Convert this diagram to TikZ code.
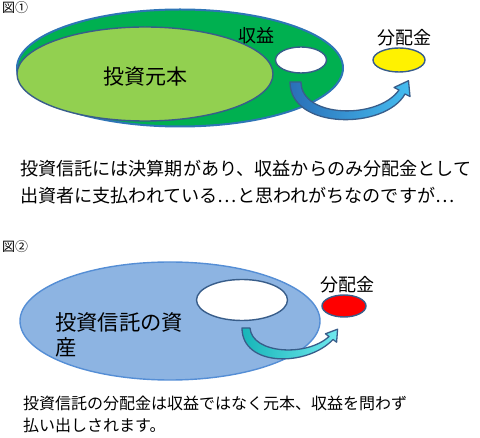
\documentclass[tikz,border=0pt]{standalone}
\usepackage{fontspec}
\setmainfont{Noto Sans CJK JP}
\usetikzlibrary{shapes.geometric,positioning}

\definecolor{capgreen}{HTML}{00B050}
\definecolor{leafgreen}{HTML}{92D050}
\definecolor{rimblue}{HTML}{2E75B6}
\definecolor{edgeblue}{HTML}{385D8A}
\definecolor{fundblue}{HTML}{8DB4E2}
\definecolor{fundrim}{HTML}{558ED5}
\definecolor{arrowdark}{HTML}{2A6FB8}
\definecolor{arrowlight}{HTML}{45BDF0}
\definecolor{tealdark}{HTML}{16B5B8}
\definecolor{teallight}{HTML}{6FE8EE}

\begin{document}
\begin{tikzpicture}[x=1pt,y=-1pt,
    oval/.style={ellipse, draw=edgeblue, line width=1.4pt, inner sep=0pt},
    txt/.style={inner sep=0pt, align=left},
    bendarrow/.style={draw=edgeblue, line width=1.3pt, line join=round}]
    \useasboundingbox (0,0) rectangle (480,438);

    % figure 1
    \node[txt, anchor=north west, font=\fontsize{13}{15}\selectfont] (fig1) at (2,1) {図①};
    \node[oval, draw=rimblue, line width=2pt, fill=capgreen, minimum width=326, minimum height=117] (whole1) at (180,68) {};
    \node[oval, fill=leafgreen, minimum width=256, minimum height=94] (principal) at (145,74) {};
    \node[txt, font=\fontsize{21}{25}\selectfont] (principallabel) at (145,77) {投資元本};
    \node[txt, font=\fontsize{18}{22}\selectfont] (gain) at (256,36) {収益};
    \node[oval, fill=white, minimum width=51, minimum height=26] (income1) at (301,60) {};
    \node[oval, fill=yellow, minimum width=52, minimum height=24] (pay1) at (399,60) {};
    \node[txt, above=1pt of pay1, xshift=5pt, font=\fontsize{18}{22}\selectfont] (paylabel1) {分配金};

    \path[bendarrow, left color=arrowdark, right color=arrowlight]
        (290,82) -- (301,82) .. controls (301,118) and (378,120) .. (399,90)
        -- (394,87.5) -- (408.5,80.7) -- (410,96.5) -- (405,94)
        .. controls (385,130) and (290,130) .. (290,82) -- cycle;

    \node[txt, anchor=west, font=\fontsize{18.1}{27}\selectfont] (note1) at (20,182.5)
        {投資信託には決算期があり、収益からのみ分配金として\\出資者に支払われている…と思われがちなのですが…};

    % figure 2
    \node[txt, anchor=north west, font=\fontsize{13}{15}\selectfont] (fig2) at (2,240) {図②};
    \node[oval, draw=fundrim, fill=fundblue, minimum width=300, minimum height=118] (assets) at (170,321) {};
    \node[oval, fill=white, minimum width=91, minimum height=41] (income2) at (242,300) {};
    \node[oval, fill=red, minimum width=44, minimum height=22] (pay2) at (344,306) {};
    \node[txt, above=1pt of pay2, xshift=3pt, font=\fontsize{18}{22}\selectfont] (paylabel2) {分配金};
    \node[txt, anchor=west, font=\fontsize{21.3}{25}\selectfont] (assetlabel) at (55,334.5) {投資信託の資\\産};

    \path[bendarrow, left color=tealdark, right color=teallight]
        (242,328) -- (250,328) .. controls (252,354) and (307,357) .. (329,336.5)
        -- (325.4,333.8) -- (337.6,329.2) -- (336.6,342.2) -- (333,339.5)
        .. controls (307,367) and (242,367) .. (242,328) -- cycle;

    \node[txt, anchor=west, font=\fontsize{16}{22}\selectfont] (note2) at (23,414)
        {投資信託の分配金は収益ではなく元本、収益を問わず\\払い出しされます。};
\end{tikzpicture}
\end{document}
